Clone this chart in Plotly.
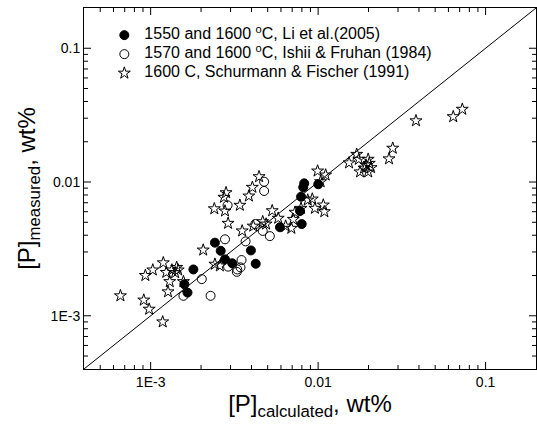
import plotly.graph_objects as go
import math

# Li et al. (2005), 1550 and 1600 C  (filled circles)
li_x = [0.00826, 0.00815, 0.01002, 0.00791, 0.00780, 0.00798, 0.00592, 0.00242,
        0.00262, 0.00278, 0.00397, 0.00307, 0.00424, 0.00180, 0.00159, 0.00166]
li_y = [0.00977, 0.00913, 0.00962, 0.00776, 0.00607, 0.00485, 0.00459, 0.00352,
        0.00306, 0.00264, 0.00308, 0.00247, 0.00245, 0.00222, 0.00172, 0.00149]

# Ishii & Fruhan (1984), 1570 and 1600 C  (open circles)
ishii_x = [0.00476, 0.00476, 0.00288, 0.00278, 0.00369, 0.00515, 0.00467, 0.00422,
           0.00349, 0.00344, 0.00327, 0.00329, 0.00290, 0.00202, 0.00157, 0.00228]
ishii_y = [0.01005, 0.00857, 0.00670, 0.00373, 0.00360, 0.00394, 0.00431, 0.00485,
           0.00261, 0.00230, 0.00213, 0.00222, 0.00233, 0.00188, 0.00141, 0.00141]

# Schurmann & Fischer (1991), 1600 C  (open stars)
sch_x = [0.00444, 0.00405, 0.00386, 0.00282, 0.00274, 0.00278, 0.00240, 0.00341,
         0.00290, 0.00352, 0.00410, 0.00467, 0.00489, 0.00532, 0.00578, 0.00640,
         0.00692, 0.00711, 0.00728, 0.00791, 0.00867, 0.00923, 0.00957, 0.01074,
         0.01089, 0.00993, 0.01109, 0.01035, 0.00206, 0.00242, 0.00259, 0.00119,
         0.00103, 0.00093, 0.00124, 0.00134, 0.00143, 0.00140, 0.00146, 0.00130,
         0.00157, 0.00127, 0.00066, 0.00091, 0.00098, 0.00118, 0.0726, 0.0641,
         0.0384, 0.0279, 0.0265, 0.0170, 0.0153, 0.0175, 0.0199, 0.0193,
         0.0207, 0.0178, 0.0199, 0.0188, 0.0202]
sch_y = [0.01096, 0.00913, 0.00786, 0.00832, 0.00769, 0.00607, 0.00631, 0.00670,
         0.00491, 0.00431, 0.00468, 0.00505, 0.00485, 0.00610, 0.00536, 0.00468,
         0.00451, 0.00526, 0.00594, 0.00636, 0.00733, 0.00746, 0.00636, 0.00673,
         0.00600, 0.01208, 0.01128, 0.01005, 0.00310, 0.00243, 0.00236, 0.00249,
         0.00220, 0.00200, 0.00211, 0.00220, 0.00230, 0.00210, 0.00220, 0.00180,
         0.00180, 0.00151, 0.00141, 0.00131, 0.00112, 0.00090, 0.0350, 0.0308,
         0.0287, 0.0179, 0.0149, 0.0161, 0.0139, 0.0148, 0.0148, 0.0134,
         0.0128, 0.0119, 0.0119, 0.0127, 0.0138]

# 1:1 line and axis limits
axis_min, axis_max = 4e-4, 0.2
line_x = [axis_min, axis_max]
line_y = [axis_min, axis_max]

tick_vals = [0.001, 0.01, 0.1]
tick_text = ["1E-3", "0.01", "0.1"]
minor_vals = [m * d for d in (1e-4, 1e-3, 1e-2, 1e-1) for m in range(2, 10)
              if axis_min < m * d < axis_max]

labels = ["1550 and 1600 <sup>o</sup>C, Li et al.(2005)",
          "1570 and 1600 <sup>o</sup>C, Ishii &amp; Fruhan (1984)",
          "1600 C, Schurmann &amp; Fischer (1991)"]

FONT = "Liberation Sans, Arial, sans-serif"
W, H = 537, 432
M = dict(l=84, r=1, t=8, b=63)
PW, PH = W - M["l"] - M["r"], H - M["t"] - M["b"]

def lab(t):
    return '<span style="font-size:16px">' + t + '</span>'

fig = go.Figure()
fig.add_trace(go.Scatter(x=line_x, y=line_y, mode="lines",
                         line=dict(color="black", width=1), showlegend=False,
                         hoverinfo="skip"))
fig.add_trace(go.Scatter(x=li_x, y=li_y, mode="markers", name=lab(labels[0]),
                         marker=dict(symbol="circle", size=9, color="black",
                                     line=dict(color="black", width=1))))
fig.add_trace(go.Scatter(x=ishii_x, y=ishii_y, mode="markers", name=lab(labels[1]),
                         marker=dict(symbol="circle-open", size=9, color="black",
                                     line=dict(color="black", width=1))))
fig.add_trace(go.Scatter(x=sch_x, y=sch_y, mode="markers", name=lab(labels[2]),
                         marker=dict(symbol="star-open", size=9, color="black",
                                     line=dict(color="black", width=1))))

rng = [math.log10(axis_min), math.log10(axis_max)]

def frac(v):
    """position of a tick value as a fraction of the (log) axis domain"""
    return (math.log10(v) - rng[0]) / (rng[1] - rng[0])

# inside tick marks on all four sides (axis decoration)
tick_shapes = []
for vals, length in ((tick_vals, 7), (minor_vals, 4)):
    lx, ly = length / PW, length / PH
    for v in vals:
        f = frac(v)
        line = dict(color="black", width=1)
        # bottom and top
        tick_shapes.append(dict(type="line", xref="x domain", yref="y domain",
                                x0=f, x1=f, y0=0, y1=ly, line=line))
        tick_shapes.append(dict(type="line", xref="x domain", yref="y domain",
                                x0=f, x1=f, y0=1, y1=1 - ly, line=line))
        # left and right
        tick_shapes.append(dict(type="line", xref="x domain", yref="y domain",
                                x0=0, x1=lx, y0=f, y1=f, line=line))
        tick_shapes.append(dict(type="line", xref="x domain", yref="y domain",
                                x0=1, x1=1 - lx, y0=f, y1=f, line=line))

axis_common = dict(
    type="log", range=rng,
    showline=True, linecolor="black", linewidth=1, mirror=True,
    ticks="", tickmode="array", tickvals=tick_vals, ticktext=tick_text,
    tickfont=dict(family=FONT, size=14, color="black"),
    showgrid=False, zeroline=False, automargin=False,
)

fig.update_layout(
    width=W, height=H,
    margin=M,
    paper_bgcolor="white", plot_bgcolor="white",
    font=dict(family=FONT, color="black"),
    xaxis=dict(axis_common,
               title=dict(text="[P]<sub>calculated</sub>, wt%",
                          font=dict(family=FONT, size=24, color="black"),
                          standoff=4)),
    yaxis=dict(axis_common,
               title=dict(text="[P]<sub>measured</sub>, wt%",
                          font=dict(family=FONT, size=24, color="black"),
                          standoff=8)),
    shapes=tick_shapes,
    legend=dict(x=0.045, y=0.965, xanchor="left", yanchor="top",
                bgcolor="rgba(0,0,0,0)", borderwidth=0,
                font=dict(family=FONT, size=11, color="black"),
                itemwidth=30, tracegroupgap=0),
    showlegend=True,
)

fig.write_html("out.html")
